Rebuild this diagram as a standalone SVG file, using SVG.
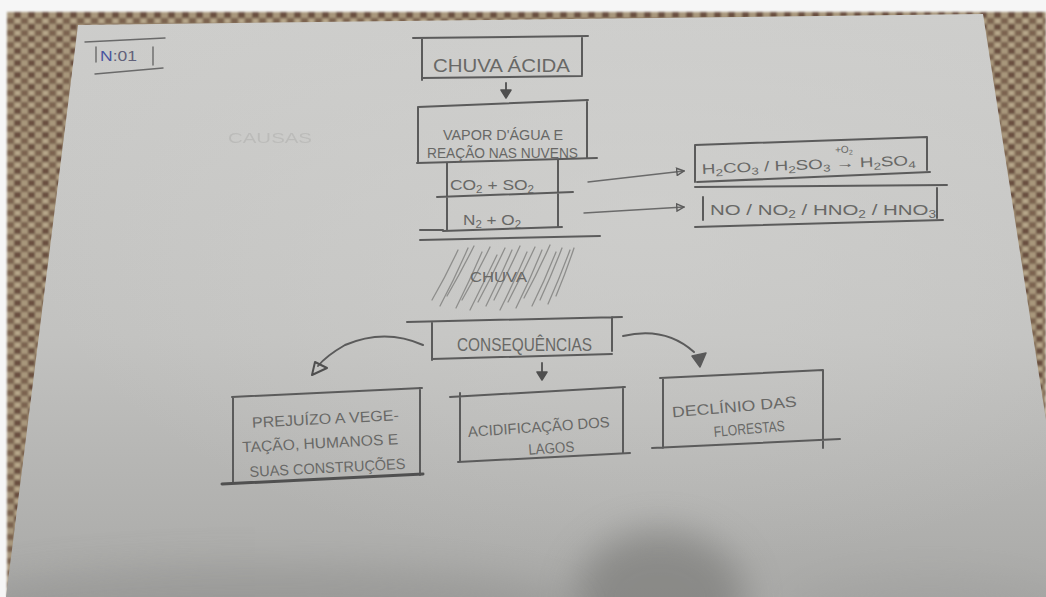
<svg xmlns="http://www.w3.org/2000/svg" width="1046" height="597" viewBox="0 0 1046 597">
  <defs>
    <style>
      .pen { fill: none; stroke: #5b5b5b; stroke-width: 2; stroke-linecap: round; stroke-linejoin: round; }
      .pen-thin { fill: none; stroke: #6a6a6a; stroke-width: 1.4; stroke-linecap: round; }
      .rain { fill: none; stroke: #8e8e8c; stroke-width: 1.3; stroke-linecap: round; }
      .hand { font-family: "Liberation Sans", "DejaVu Sans", sans-serif; fill: #686866; }
      .big { font-size: 19px; }
      .mid { font-size: 15px; }
      .sm { font-size: 14px; }
      .sub { font-size: 10px; }
    </style>
    <pattern id="cloth" width="14" height="12" patternUnits="userSpaceOnUse">
      <rect width="14" height="12" fill="#a8977c"/>
      <rect x="0" y="0" width="7" height="6" fill="#6a5040"/>
      <rect x="7" y="6" width="7" height="6" fill="#7c6450"/>
      <rect x="2" y="8" width="3" height="2" fill="#c2b498"/>
    </pattern>
    <linearGradient id="paperShade" x1="0" y1="0" x2="0" y2="1">
      <stop offset="0" stop-color="#cdcdcb"/>
      <stop offset="0.55" stop-color="#c2c2c0"/>
      <stop offset="1" stop-color="#a9a9a7"/>
    </linearGradient>
    <radialGradient id="paperGlow" cx="0.62" cy="0.35" r="0.6">
      <stop offset="0" stop-color="#d2d2d0" stop-opacity="0.6"/>
      <stop offset="1" stop-color="#d2d2d0" stop-opacity="0"/>
    </radialGradient>
    <filter id="soft" x="-50%" y="-50%" width="200%" height="200%">
      <feGaussianBlur stdDeviation="18"/>
    </filter>
    <filter id="clothBlur">
      <feGaussianBlur stdDeviation="1.2"/>
    </filter>
    <clipPath id="paperClip">
      <polygon points="78,25 983,14 1046,420 1046,597 6,597"/>
    </clipPath>
    <marker id="openTip" viewBox="0 0 10 10" refX="9" refY="5" markerWidth="9" markerHeight="9" orient="auto" markerUnits="userSpaceOnUse">
      <path d="M1,1 L9,5 L1,9 Z" fill="none" stroke="#5b5b5b" stroke-width="1.6"/>
    </marker>
  </defs>

  <!-- table surface -->
  <rect width="1046" height="597" fill="#f6f6f6"/>
  <rect x="7" y="12" width="1039" height="585" fill="url(#cloth)" filter="url(#clothBlur)"/>

  <!-- sheet of paper -->
  <polygon points="78,25 983,14 1046,420 1046,597 6,597" fill="url(#paperShade)"/>
  <g clip-path="url(#paperClip)">
    <rect x="0" y="0" width="1046" height="597" fill="url(#paperGlow)"/>
    <ellipse cx="660" cy="600" rx="85" ry="70" fill="#6f6f6d" opacity="0.55" filter="url(#soft)"/>
    <ellipse cx="260" cy="610" rx="320" ry="45" fill="#8a8a88" opacity="0.45" filter="url(#soft)"/>
    <ellipse cx="930" cy="610" rx="140" ry="35" fill="#9a9a98" opacity="0.35" filter="url(#soft)"/>
  </g>

  <!-- sheet number -->
  <g id="sheet-number">
    <path class="pen-thin" d="M85,42 L165,38 M95,74 L163,68 M96,47 L96,62 M153,47 L153,65"/>
    <text class="hand" x="100" y="61" font-size="15" textLength="37" lengthAdjust="spacingAndGlyphs"><tspan fill="#4a56a0">N</tspan><tspan fill="#62627a">:01</tspan></text>
  </g>

  <!-- erased word -->
  <text class="hand" x="228" y="143" font-size="15" fill="#bfbfbd" opacity="0.15" textLength="84" lengthAdjust="spacingAndGlyphs">CAUSAS</text>

  <!-- title -->
  <g id="chuva-acida">
    <path class="pen" d="M413,38 L588,36 M422,38 L422,80 M582,37 L582,75 M422,78 L582,76"/>
    <text class="hand big" x="433" y="72" textLength="137" lengthAdjust="spacingAndGlyphs">CHUVA ÁCIDA</text>
  </g>

  <!-- clouds -->
  <g id="vapor">
    <path class="pen" d="M418,107 L588,100 M418,107 L418,162 M587,100 L587,158 M417,163 L597,158"/>
    <text class="hand mid" x="443" y="140" textLength="120" lengthAdjust="spacingAndGlyphs">VAPOR D'ÁGUA E</text>
    <text class="hand mid" x="427" y="158" textLength="151" lengthAdjust="spacingAndGlyphs">REAÇÃO NAS NUVENS</text>
  </g>

  <g id="gases">
    <path class="pen" d="M447,163 L447,231 M558,160 L558,227 M437,197 L573,192 M443,231 L562,227 M420,230 L443,230"/>
    <text class="hand mid" x="450" y="190" textLength="84" lengthAdjust="spacingAndGlyphs">CO<tspan class="sub" dy="3">2</tspan><tspan dy="-3"> + SO</tspan><tspan class="sub" dy="3">2</tspan></text>
    <text class="hand mid" x="463" y="225" textLength="58" lengthAdjust="spacingAndGlyphs">N<tspan class="sub" dy="3">2</tspan><tspan dy="-3"> + O</tspan><tspan class="sub" dy="3">2</tspan></text>
  </g>

  <g id="acidos-s">
    <path class="pen" d="M695,145 L927,137 M695,145 L695,182 M927,137 L927,170 M697,182 L930,172"/>
    <g transform="rotate(-2.4 700 174)">
      <text class="hand sm" x="702" y="174" textLength="214" lengthAdjust="spacingAndGlyphs">H<tspan class="sub" dy="3">2</tspan><tspan dy="-3">CO</tspan><tspan class="sub" dy="3">3</tspan><tspan dy="-3"> / H</tspan><tspan class="sub" dy="3">2</tspan><tspan dy="-3">SO</tspan><tspan class="sub" dy="3">3</tspan><tspan dy="-3"> → H</tspan><tspan class="sub" dy="3">2</tspan><tspan dy="-3">SO</tspan><tspan class="sub" dy="3">4</tspan></text>
      <text class="hand" x="836" y="159" font-size="10">+O<tspan font-size="7" dy="2">2</tspan></text>
    </g>
  </g>

  <g id="acidos-n">
    <path class="pen" d="M695,187 L947,185 M703,197 L703,220 M937,188 L937,218 M695,227 L943,220"/>
    <text class="hand mid" x="710" y="215" textLength="226" lengthAdjust="spacingAndGlyphs">NO / NO<tspan class="sub" dy="3">2</tspan><tspan dy="-3"> / HNO</tspan><tspan class="sub" dy="3">2</tspan><tspan dy="-3"> / HNO</tspan><tspan class="sub" dy="3">3</tspan></text>
  </g>

  <!-- rain -->
  <g id="chuva">
    <path class="pen" d="M420,240 L600,236"/>
    <g class="rain">
      <path d="M432,300 Q446,276 458,250"/>
      <path d="M440,306 Q455,278 468,248"/>
      <path d="M447,296 Q461,272 474,246"/>
      <path d="M456,308 Q470,280 482,252"/>
      <path d="M462,300 Q477,274 490,247"/>
      <path d="M470,310 Q484,282 497,255"/>
      <path d="M478,302 Q492,276 505,248"/>
      <path d="M486,306 Q500,278 512,250"/>
      <path d="M494,300 Q508,272 520,246"/>
      <path d="M500,310 Q514,282 527,252"/>
      <path d="M508,302 Q522,275 535,247"/>
      <path d="M516,308 Q530,280 542,250"/>
      <path d="M524,298 Q538,272 550,245"/>
      <path d="M532,306 Q545,280 556,252"/>
      <path d="M540,300 Q552,274 562,248"/>
      <path d="M548,304 Q560,277 570,250"/>
      <path d="M556,296 Q566,272 574,248"/>
    </g>
    <text class="hand mid" x="470" y="282" textLength="57" lengthAdjust="spacingAndGlyphs">CHUVA</text>
  </g>

  <g id="consequencias">
    <path class="pen" d="M407,322 L622,317 M432,322 L432,360 M612,317 L612,351 M432,359 L612,354"/>
    <text class="hand big" x="457" y="351" textLength="135" lengthAdjust="spacingAndGlyphs">CONSEQUÊNCIAS</text>
  </g>

  <g id="prejuizo">
    <path class="pen" d="M232,397 L422,388 M233,397 L233,483 M420,388 L420,475"/>
    <path d="M222,484 L423,474" fill="none" stroke="#505050" stroke-width="3" stroke-linecap="round"/>
    <g transform="rotate(-3 325 440)">
      <text class="hand mid" x="253" y="424" textLength="147" lengthAdjust="spacingAndGlyphs">PREJUÍZO A VEGE-</text>
      <text class="hand mid" x="242" y="448" textLength="156" lengthAdjust="spacingAndGlyphs">TAÇÃO, HUMANOS E</text>
      <text class="hand mid" x="248" y="473" textLength="156" lengthAdjust="spacingAndGlyphs">SUAS CONSTRUÇÕES</text>
    </g>
  </g>

  <g id="acidificacao">
    <path class="pen" d="M450,397 L625,387 M460,393 L460,462 M623,387 L623,453 M458,462 L630,453"/>
    <g transform="rotate(-4 540 430)">
      <text class="hand mid" x="468" y="432" textLength="142" lengthAdjust="spacingAndGlyphs">ACIDIFICAÇÃO DOS</text>
      <text class="hand mid" x="527" y="454" textLength="46" lengthAdjust="spacingAndGlyphs">LAGOS</text>
    </g>
  </g>

  <g id="declinio">
    <path class="pen" d="M660,378 L823,370 M663,378 L663,448 M823,370 L823,448 M652,448 L840,439"/>
    <g transform="rotate(-5 735 410)">
      <text class="hand mid" x="672" y="412" textLength="125" lengthAdjust="spacingAndGlyphs">DECLÍNIO DAS</text>
      <text class="hand mid" x="712" y="435" textLength="71" lengthAdjust="spacingAndGlyphs">FLORESTAS</text>
    </g>
  </g>

  <!-- connectors -->
  <g id="connectors">
    <!-- short downward arrows -->
    <path class="pen" d="M506,83 L506,93"/>
    <path d="M501,90 L511,90 L506,98 Z" fill="#4f4f4f" stroke="#4f4f4f" stroke-width="1.5" stroke-linejoin="round"/>
    <path class="pen" d="M542,363 L542,374"/>
    <path d="M537,372 L547,372 L542,380 Z" fill="#4f4f4f" stroke="#4f4f4f" stroke-width="1.5" stroke-linejoin="round"/>

    <!-- gases to acids -->
    <path class="pen-thin" d="M588,182 Q640,176 684,171" marker-end="url(#openTip)"/>
    <path class="pen-thin" d="M584,213 Q636,210 684,207" marker-end="url(#openTip)"/>

    <!-- consequences -->
    <path class="pen" d="M423,345 Q385,328 345,345 Q326,356 318,366"/>
    <path d="M312,375 L315,362 L327,368 Z" fill="none" stroke="#4f4f4f" stroke-width="2" stroke-linejoin="round"/>
    <path class="pen" d="M623,336 Q665,326 694,352"/>
    <path d="M692,356 L706,353 L700,367 Z" fill="#5a5a5a" stroke="#5a5a5a" stroke-width="1.5" stroke-linejoin="round"/>
  </g>
</svg>
